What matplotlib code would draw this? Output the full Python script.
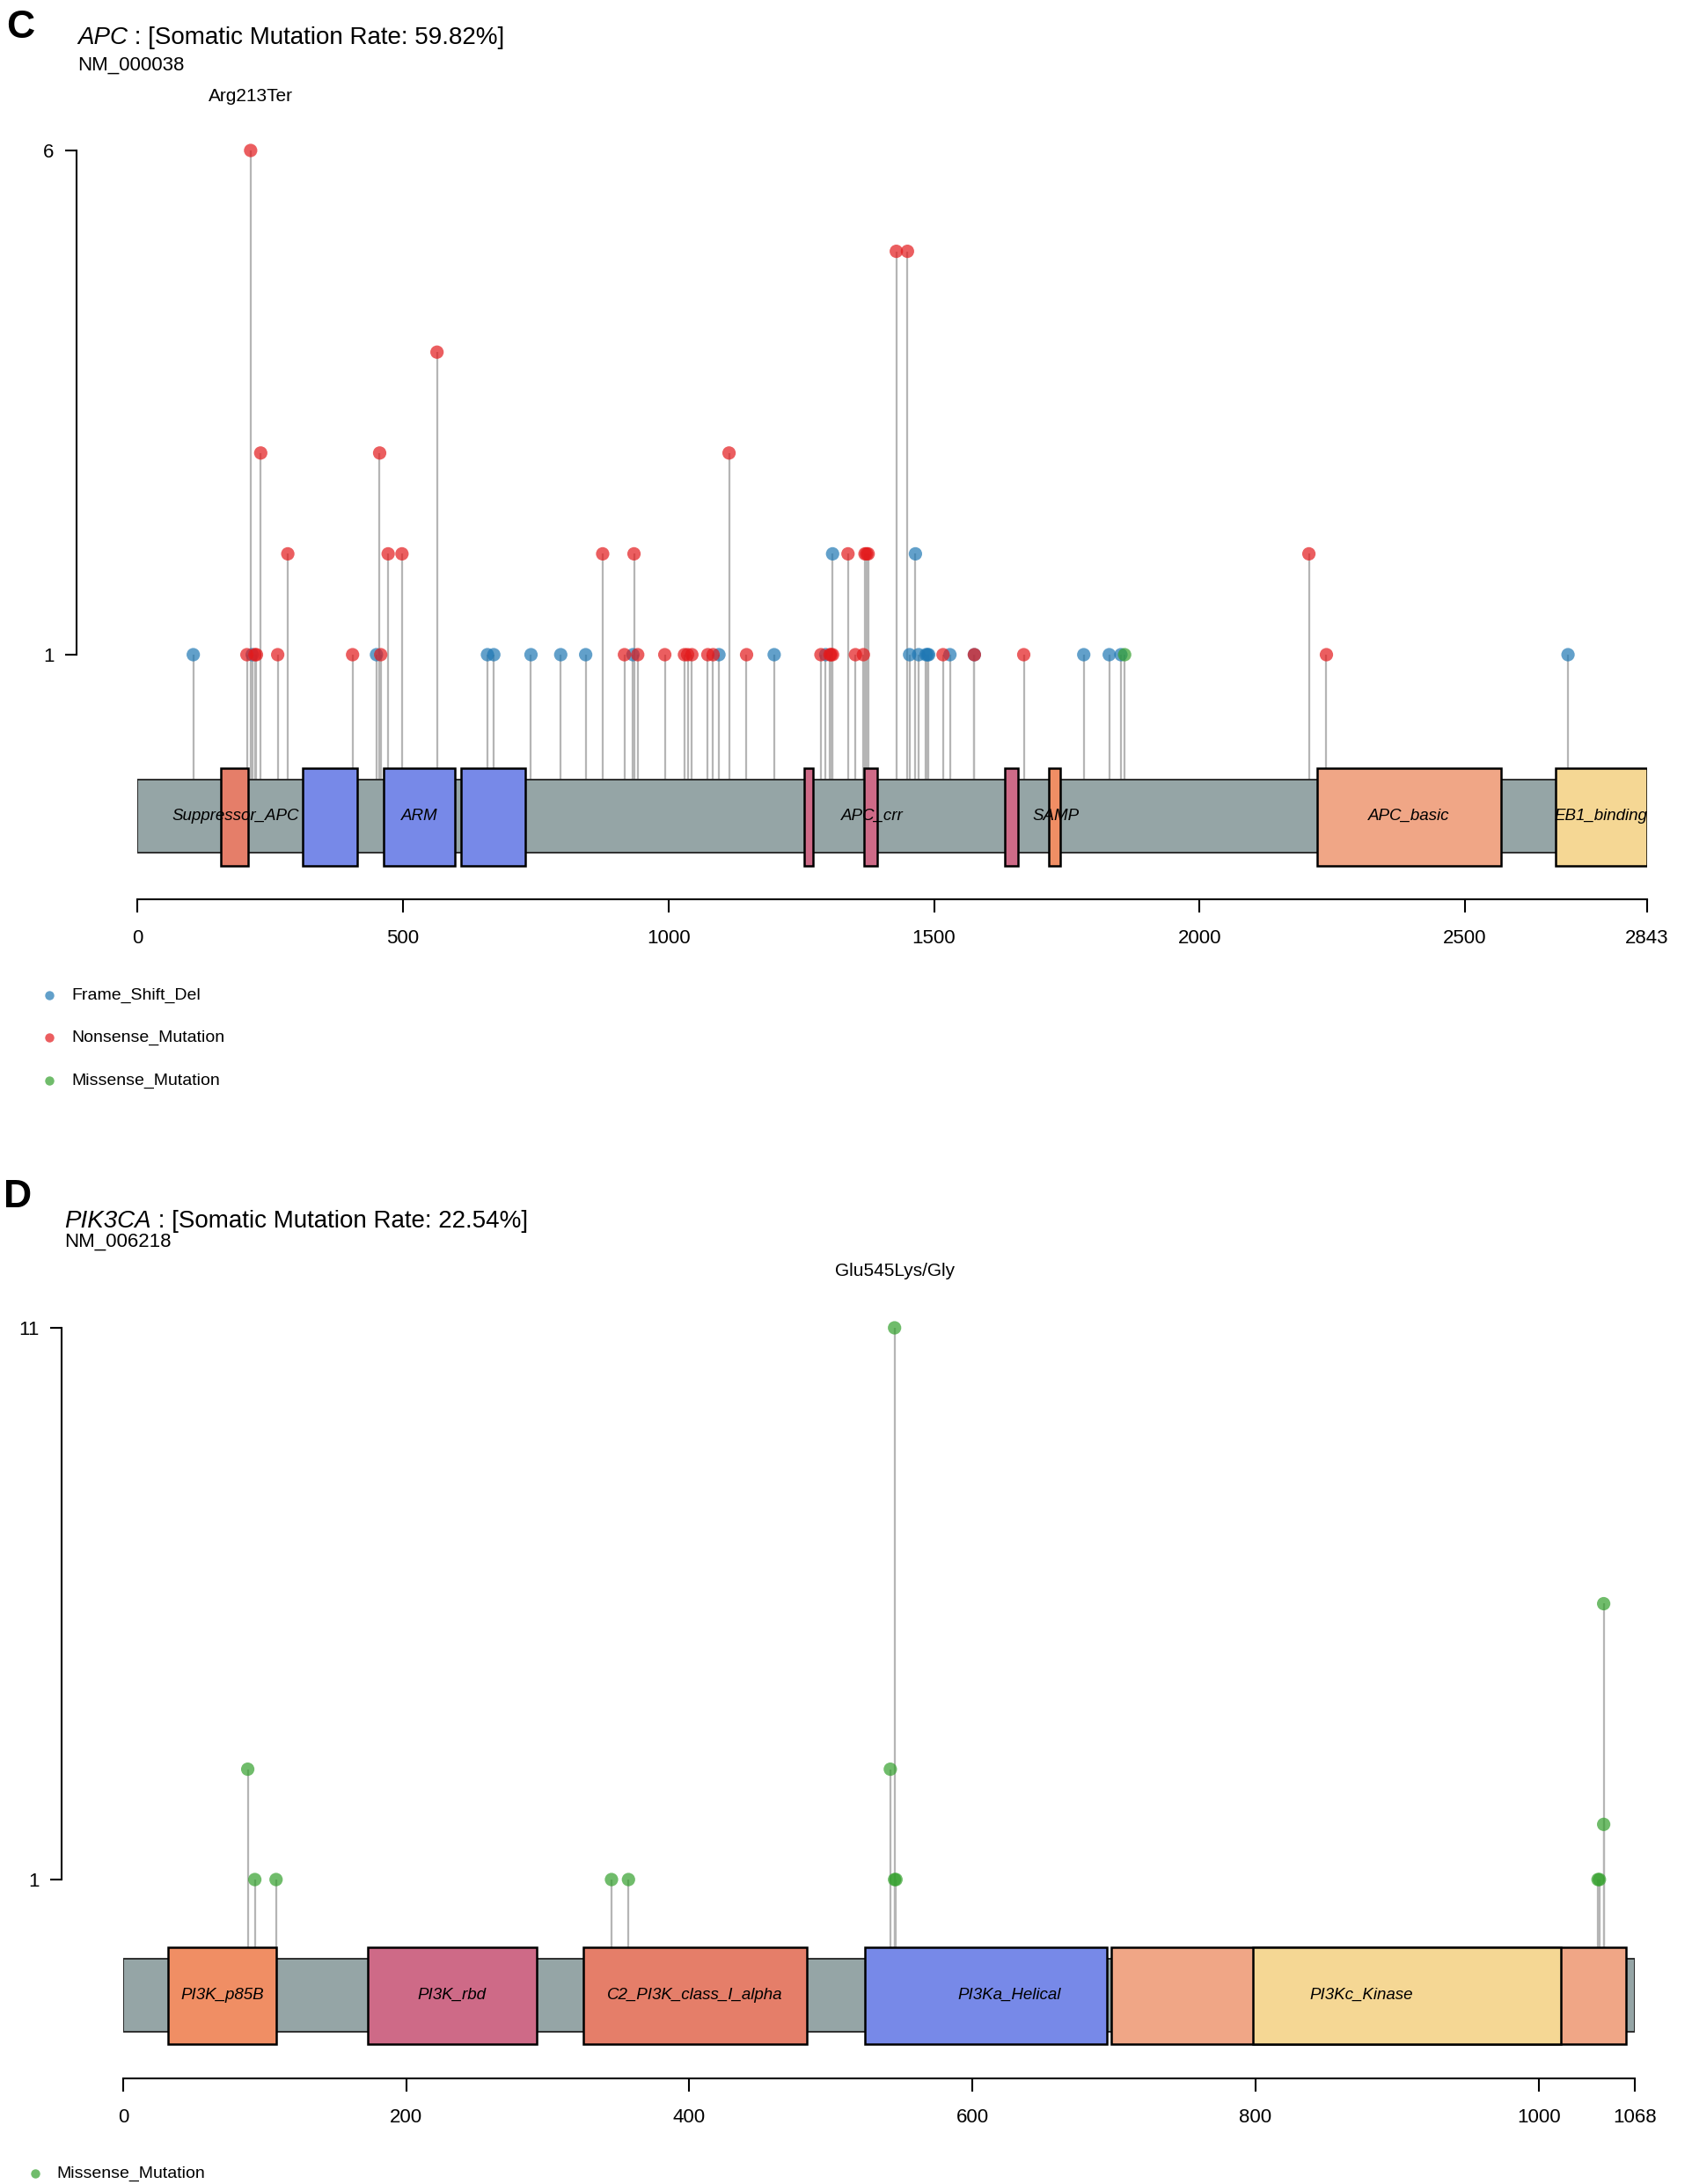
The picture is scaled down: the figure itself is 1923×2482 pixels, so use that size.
import matplotlib
matplotlib.use('Agg')
import matplotlib.pyplot as plt
from matplotlib.patches import Rectangle
from matplotlib.lines import Line2D
import matplotlib.transforms as mtransforms

plt.rcParams['font.family'] = ['Liberation Sans', 'DejaVu Sans']

# ---- APC data ----
apc_len = 2843
apc_xticks = [0, 500, 1000, 1500, 2000, 2500, 2843]

apc_fs_pos = [105, 216, 450, 659, 671, 741, 797, 844, 933, 1095, 1199, 1296, 1309,
              1454, 1465, 1471, 1485, 1488, 1490, 1530, 1576, 1782, 1830, 1852, 2694]
apc_fs_cnt = [1, 1, 1, 1, 1, 1, 1, 1, 1, 1, 1, 1, 2,
              1, 2, 1, 1, 1, 1, 1, 1, 1, 1, 1, 1]

apc_non_pos = [206, 213, 221, 224, 232, 264, 283, 405, 456, 458, 472, 498, 564, 876,
               917, 935, 942, 993, 1030, 1036, 1044, 1074, 1084, 1114, 1147, 1287,
               1304, 1306, 1309, 1338, 1352, 1367, 1370, 1373, 1376, 1429, 1450, 1517,
               1576, 1669, 2206, 2239]
apc_non_cnt = [1, 6, 1, 1, 3, 1, 2, 1, 3, 1, 2, 2, 4, 2,
               1, 2, 1, 1, 1, 1, 1, 1, 1, 3, 1, 1,
               1, 1, 1, 2, 1, 1, 2, 2, 2, 5, 5, 1,
               1, 1, 2, 1]

apc_mis_pos = [1859]
apc_mis_cnt = [1]

apc_dom_name = ['Suppressor_APC', 'ARM', 'ARM', 'ARM', 'APC_crr', 'APC_crr', 'APC_crr',
                'SAMP', 'APC_basic', 'EB1_binding']
apc_dom_start = [157, 311, 464, 610, 1255, 1368, 1634, 1717, 2222, 2670]
apc_dom_end = [209, 413, 598, 731, 1272, 1393, 1659, 1737, 2568, 2843]
apc_lab_name = ['Suppressor_APC', 'ARM', 'APC_crr', 'SAMP', 'APC_basic', 'EB1_binding']
apc_lab_pos = [184, 531, 1384, 1729, 2395, 2756]

# ---- PIK3CA data ----
pik_len = 1068
pik_xticks = [0, 200, 400, 600, 800, 1000, 1068]

pik_mis_pos = [88, 93, 108, 345, 357, 542, 545, 545, 546, 1042, 1043, 1046, 1046]
pik_mis_cnt = [3, 1, 1, 1, 1, 3, 11, 1, 1, 1, 1, 6, 2]

pik_dom_name = ['PI3K_p85B', 'PI3K_rbd', 'C2_PI3K_class_I_alpha', 'PI3Ka_Helical',
                'PI3_PI4_kinase', 'PI3Kc_Kinase']
pik_dom_start = [32, 173, 325, 524, 698, 798]
pik_dom_end = [108, 292, 483, 695, 1062, 1016]
pik_lab_name = ['PI3K_p85B', 'PI3K_rbd', 'C2_PI3K_class_I_alpha', 'PI3Ka_Helical', 'PI3Kc_Kinase']
pik_lab_pos = [70, 232, 404, 626, 875]

dom_colors = {'Suppressor_APC': '#E57E69', 'C2_PI3K_class_I_alpha': '#E57E69',
              'ARM': '#7789E8', 'PI3Ka_Helical': '#7789E8',
              'APC_crr': '#CE6A87', 'PI3K_rbd': '#CE6A87',
              'SAMP': '#F08E64', 'PI3K_p85B': '#F08E64',
              'APC_basic': '#F0A686', 'PI3_PI4_kinase': '#F0A686',
              'EB1_binding': '#F5D794', 'PI3Kc_Kinase': '#F5D794'}

mut_colors = {'Frame_Shift_Del': '#1F78B4', 'Nonsense_Mutation': '#E31A1C',
              'Missense_Mutation': '#33A02C'}

W, H = 1923, 2482
fig = plt.figure(figsize=(W / 100, H / 100), dpi=100)


def fx(px):
    return px / W


def fy(px):
    return 1 - px / H


def panel(length, xticks, muts, dnames, dstart, dend, lnames, lpos, g):
    per = (g['one'] - g['top']) / (g['topcount'] - 1)

    def cy(px):
        return 1 + (g['one'] - px) / per

    ax = fig.add_axes([fx(g['left']), fy(g['bottom']),
                       fx(g['right']) - fx(g['left']), (g['bottom'] - g['top']) / H])
    ax.set_xlim(0, length)
    ax.set_ylim(cy(g['bottom']), g['topcount'])
    ax.patch.set_visible(False)

    # stems
    for name, pos, cnt in muts:
        ax.vlines(pos, cy(g['bar_top']), cnt, color='#b5b5b5', lw=1.6, zorder=1)

    # protein backbone
    ax.add_patch(Rectangle((0, cy(g['bar_bot'])), length, cy(g['bar_top']) - cy(g['bar_bot']),
                           fc='#95A5A6', ec='#222222', lw=1.3, zorder=2))
    for n, s, e in zip(dnames, dstart, dend):
        ax.add_patch(Rectangle((s, cy(g['dom_bot'])), e - s, cy(g['dom_top']) - cy(g['dom_bot']),
                               fc=dom_colors[n], ec='black', lw=1.8, zorder=3))
    mid = cy((g['bar_top'] + g['bar_bot']) / 2)
    for n, p in zip(lnames, lpos):
        ax.text(p, mid, n, style='italic', fontsize=13.5, ha='center', va='center', zorder=4)

    # lollipop heads
    for name, pos, cnt in muts:
        ax.scatter(pos, cnt, s=120, color=mut_colors[name], alpha=0.7, edgecolors='none',
                   zorder=5, clip_on=False)

    for sp in ['top', 'right']:
        ax.spines[sp].set_visible(False)
    ax.spines['left'].set_position(('outward', (g['left'] - g['yaxis']) * 0.72))
    ax.spines['left'].set_bounds(1, g['topcount'])
    ax.spines['bottom'].set_position(('data', cy(g['axis'])))
    ax.spines['bottom'].set_bounds(0, length)
    ax.spines['left'].set_linewidth(1.5)
    ax.spines['bottom'].set_linewidth(1.5)
    ax.set_yticks([1, g['topcount']])
    ax.set_xticks(xticks)
    ax.tick_params(axis='y', length=9.4, width=1.5, pad=9, labelsize=16)
    ax.tick_params(axis='x', length=10.8, width=1.5, pad=14, labelsize=16)
    return ax


def title(letter, letter_x, letter_y, gene, rest, tx, ty, nm, nmy):
    fig.text(fx(letter_x), fy(letter_y), letter, fontsize=32, fontweight='bold', va='baseline')
    t = fig.text(fx(tx), fy(ty), gene, fontsize=20, style='italic', va='baseline')
    fig.text(0, 0, rest, fontsize=20, va='baseline',
             transform=mtransforms.offset_copy(t.get_transform(), fig=fig, x=0, y=0))
    return t


def legend(items, mx, tx, ys):
    for name, y in zip(items, ys):
        fig.add_artist(Line2D([fx(mx)], [fy(y)], marker='o', ms=7.5, color=mut_colors[name],
                              alpha=0.7, mec='none', transform=fig.transFigure))
        fig.text(fx(tx), fy(y), name, fontsize=14, va='center')


# ---------------- APC panel ----------------
apc_geom = dict(left=156.3, right=1872, top=171, one=744, topcount=6, bottom=1045,
                bar_top=886, bar_bot=969, dom_top=873, dom_bot=984, axis=1022, yaxis=87)
apc_muts = ([('Frame_Shift_Del', p, c) for p, c in zip(apc_fs_pos, apc_fs_cnt)] +
            [('Nonsense_Mutation', p, c) for p, c in zip(apc_non_pos, apc_non_cnt)] +
            [('Missense_Mutation', p, c) for p, c in zip(apc_mis_pos, apc_mis_cnt)])
ax1 = panel(apc_len, apc_xticks, apc_muts, apc_dom_name, apc_dom_start, apc_dom_end,
            apc_lab_name, apc_lab_pos, apc_geom)
tr1 = mtransforms.blended_transform_factory(ax1.transData, fig.transFigure)
ax1.text(213, fy(115), 'Arg213Ter', fontsize=15, ha='center', va='baseline', transform=tr1)

fig.text(fx(7), fy(43), 'C', fontsize=32, fontweight='bold', va='baseline')
t1 = fig.text(fx(88), fy(50), 'APC', fontsize=20, style='italic', va='baseline')
ax1.annotate(' : [Somatic Mutation Rate: 59.82%]', xy=(1, 0), xycoords=t1,
             fontsize=20, va='bottom', ha='left', annotation_clip=False)
fig.text(fx(88), fy(80), 'NM_000038', fontsize=16, va='baseline')
legend(['Frame_Shift_Del', 'Nonsense_Mutation', 'Missense_Mutation'], 56, 81, [1131, 1179, 1228])

# ---------------- PIK3CA panel ----------------
pik_geom = dict(left=140, right=1858, top=1509, one=2136, topcount=11, bottom=2385,
                bar_top=2226, bar_bot=2309, dom_top=2213, dom_bot=2323, axis=2362, yaxis=70)
pik_muts = [('Missense_Mutation', p, c) for p, c in zip(pik_mis_pos, pik_mis_cnt)]
ax2 = panel(pik_len, pik_xticks, pik_muts, pik_dom_name, pik_dom_start, pik_dom_end,
            pik_lab_name, pik_lab_pos, pik_geom)
tr2 = mtransforms.blended_transform_factory(ax2.transData, fig.transFigure)
ax2.text(545, fy(1450), 'Glu545Lys/Gly', fontsize=15, ha='center', va='baseline', transform=tr2)

fig.text(fx(4), fy(1372), 'D', fontsize=32, fontweight='bold', va='baseline')
t2 = fig.text(fx(73), fy(1395), 'PIK3CA', fontsize=20, style='italic', va='baseline')
ax2.annotate(' : [Somatic Mutation Rate: 22.54%]', xy=(1, 0), xycoords=t2,
             fontsize=20, va='bottom', ha='left', annotation_clip=False)
fig.text(fx(73), fy(1417), 'NM_006218', fontsize=16, va='baseline')
legend(['Missense_Mutation'], 40, 64, [2470])

fig.savefig('out.png', dpi=100)
